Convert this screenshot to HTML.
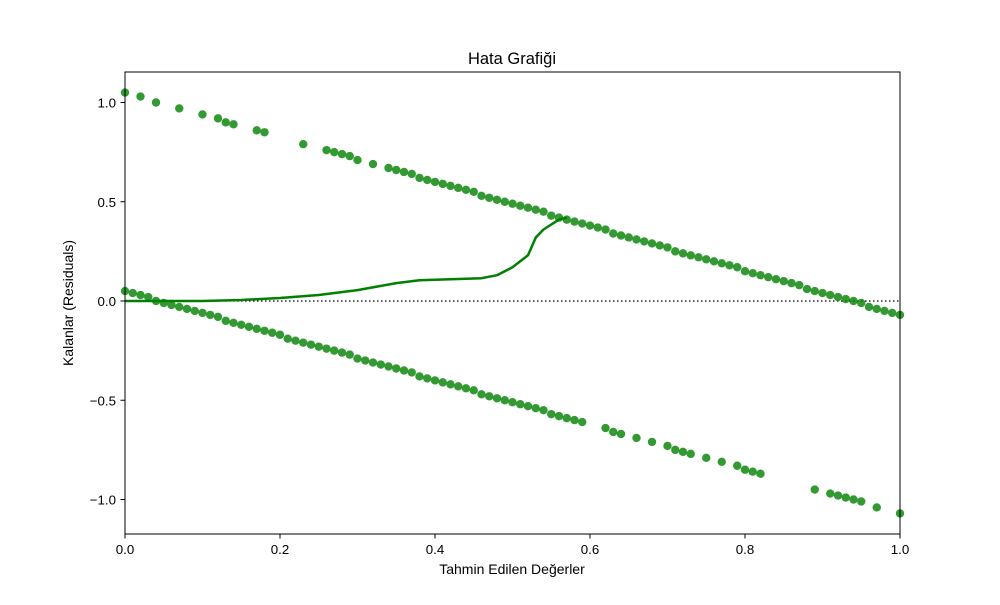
<!DOCTYPE html>
<html><head><meta charset="utf-8"><style>
body{margin:0;background:#fff;}
svg text{font-family:"Liberation Sans","DejaVu Sans",sans-serif;fill:#000;}
</style></head><body>
<svg id="chart" width="1000" height="600" xmlns="http://www.w3.org/2000/svg">
<rect width="1000" height="600" fill="#fff"/>
<g id="grid"></g>
<g id="marks"></g>
<rect x="125" y="72" width="775" height="462" fill="none" stroke="#000" stroke-width="1"/>
<text x="512" y="64" font-size="16.5" text-anchor="middle">Hata Grafiği</text>
<text x="512" y="574" font-size="14" text-anchor="middle">Tahmin Edilen Değerler</text>
<text transform="translate(73,303) rotate(-90)" font-size="14" text-anchor="middle">Kalanlar (Residuals)</text>
</svg>
<script>
const upperX=[0,0.02,0.04,0.07,0.10,0.12,0.13,0.14,0.17,0.18,0.23,0.26,0.27,0.28,0.29,0.30,0.32,0.34,0.35,0.36,0.37,0.38,0.39,0.40,0.41,0.42,0.43,0.44,0.45,0.46,0.47,0.48,0.49,0.50,0.51,0.52,0.53,0.54,0.55,0.56,0.57,0.58,0.59,0.60,0.61,0.62,0.63,0.64,0.65,0.66,0.67,0.68,0.69,0.70,0.71,0.72,0.73,0.74,0.75,0.76,0.77,0.78,0.79,0.80,0.81,0.82,0.83,0.84,0.85,0.86,0.87,0.88,0.89,0.90,0.91,0.92,0.93,0.94,0.95,0.96,0.97,0.98,0.99,1.00];
const upperR=[1.05,1.03,1.00,0.97,0.94,0.92,0.90,0.89,0.86,0.85,0.79,0.76,0.75,0.74,0.73,0.71,0.69,0.67,0.66,0.65,0.64,0.62,0.61,0.60,0.59,0.58,0.57,0.56,0.55,0.53,0.52,0.51,0.50,0.49,0.48,0.47,0.46,0.45,0.43,0.42,0.41,0.40,0.39,0.38,0.37,0.36,0.34,0.33,0.32,0.31,0.30,0.29,0.28,0.27,0.25,0.24,0.23,0.22,0.21,0.20,0.19,0.18,0.17,0.15,0.14,0.13,0.12,0.11,0.10,0.09,0.08,0.06,0.05,0.04,0.03,0.02,0.01,0.00,-0.01,-0.03,-0.04,-0.05,-0.06,-0.07];
const lowerX=[0,0.01,0.02,0.03,0.04,0.05,0.06,0.07,0.08,0.09,0.10,0.11,0.12,0.13,0.14,0.15,0.16,0.17,0.18,0.19,0.20,0.21,0.22,0.23,0.24,0.25,0.26,0.27,0.28,0.29,0.30,0.31,0.32,0.33,0.34,0.35,0.36,0.37,0.38,0.39,0.40,0.41,0.42,0.43,0.44,0.45,0.46,0.47,0.48,0.49,0.50,0.51,0.52,0.53,0.54,0.55,0.56,0.57,0.58,0.59,0.62,0.63,0.64,0.66,0.68,0.70,0.71,0.72,0.73,0.75,0.77,0.79,0.80,0.81,0.82,0.89,0.91,0.92,0.93,0.94,0.95,0.97,1.00];
const lowerR=[0.05,0.04,0.03,0.02,0.00,-0.01,-0.02,-0.03,-0.04,-0.05,-0.06,-0.07,-0.08,-0.10,-0.11,-0.12,-0.13,-0.14,-0.15,-0.16,-0.17,-0.19,-0.20,-0.21,-0.22,-0.23,-0.24,-0.25,-0.26,-0.27,-0.29,-0.30,-0.31,-0.32,-0.33,-0.34,-0.35,-0.36,-0.38,-0.39,-0.40,-0.41,-0.42,-0.43,-0.44,-0.45,-0.47,-0.48,-0.49,-0.50,-0.51,-0.52,-0.53,-0.54,-0.55,-0.57,-0.58,-0.59,-0.60,-0.61,-0.64,-0.66,-0.67,-0.69,-0.71,-0.73,-0.75,-0.76,-0.77,-0.79,-0.81,-0.83,-0.85,-0.86,-0.87,-0.95,-0.97,-0.98,-0.99,-1.00,-1.01,-1.04,-1.07];
const lowessX=[0,0.05,0.10,0.15,0.20,0.25,0.30,0.35,0.38,0.42,0.46,0.48,0.50,0.52,0.53,0.54,0.56,0.57];
const lowessY=[0.0,0.0,0.0,0.005,0.015,0.03,0.055,0.09,0.105,0.11,0.115,0.13,0.17,0.23,0.32,0.36,0.41,0.42];
const xTicks=[0,0.2,0.4,0.6,0.8,1.0];
const xTickLabels=["0.0","0.2","0.4","0.6","0.8","1.0"];
const yTicks=[-1,-0.5,0,0.5,1];
const yTickLabels=["−1.0","−0.5","0.0","0.5","1.0"];

const NS="http://www.w3.org/2000/svg";
const X=v=>125+v*775;
const Y=v=>301-v*198.5;
const grid=document.getElementById('grid'), marks=document.getElementById('marks');
function mk(tag,attrs,parent){const e=document.createElementNS(NS,tag);for(const k in attrs)e.setAttribute(k,attrs[k]);parent.appendChild(e);return e;}

xTicks.forEach((t,i)=>{
  const l=mk('line',{x1:X(t),x2:X(t),y1:534,y2:538.5,stroke:'#000'},grid);
  
  
  const tx=mk('text',{x:X(t),y:554,'font-size':13.3,'text-anchor':'middle'},grid);
  tx.textContent=xTickLabels[i];
  
  
});
yTicks.forEach((t,i)=>{
  const l=mk('line',{x1:120.5,x2:125,y1:Y(t),y2:Y(t),stroke:'#000'},grid);
  
  
  const tx=mk('text',{x:116,y:Y(t)+5,'font-size':13.3,'text-anchor':'end'},grid);
  tx.textContent=yTickLabels[i];
  
  
});
const zl=mk('line',{x1:125,x2:900,y1:Y(0),y2:Y(0),stroke:'#000','stroke-width':1.3,'stroke-dasharray':'1.5,2.5'},marks);



function pts(xs,rs,name){
  xs.forEach((x,i)=>{
    const c=mk('circle',{cx:X(x),cy:Y(rs[i]),r:4.2,fill:'#008000','fill-opacity':0.8},marks);
    
    
  });
}
pts(upperX,upperR,'residual-point-upper');
pts(lowerX,lowerR,'residual-point-lower');

const d=lowessX.map((x,i)=>(i?'L':'M')+X(x).toFixed(1)+','+Y(lowessY[i]).toFixed(1)).join(' ');
const p=mk('path',{d:d,fill:'none',stroke:'#008000','stroke-width':2.5,'stroke-linejoin':'round'},marks);


</script>
</body></html>
